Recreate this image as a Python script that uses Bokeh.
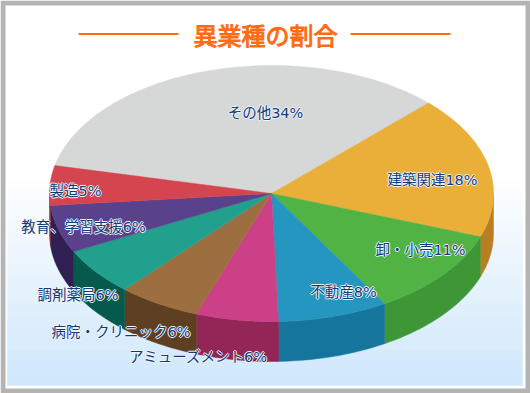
import numpy as np
from bokeh.plotting import figure
from bokeh.models import Range1d
from bokeh.core.properties import value
from bokeh.embed import file_html
from bokeh.resources import INLINE

# ---- chart data ----
title = "異業種の割合"
categories = ["その他", "建築関連", "卸・小売", "不動産", "アミューズメント",
              "病院・クリニック", "調剤薬局", "教育、学習支援", "製造"]
shares = [34, 18, 11, 8, 6, 6, 6, 6, 5]
top_colors = ["#d6d8d7", "#e9af38", "#52b345", "#2496c0", "#cc4088",
              "#9c6e40", "#22a08e", "#5a418c", "#d5454f"]
side_colors = ["#9a9c9b", "#b87f22", "#3e9637", "#16759c", "#932557",
               "#5f3f22", "#055a4c", "#2f1f52", "#8a2a35"]
label_x = [265, 432, 420, 343, 198, 120.5, 77.5, 83, 75]
label_y = [112, 179, 249, 291, 356, 331, 294, 226, 190]

# ---- layout ----
W, H = 530, 393
CX, CY, RX, RY, DEPTH = 271, 193, 222, 128, 40
START_DEG = 45 + 122.4  # start of the first slice, going clockwise

p = figure(width=W, height=H, x_range=Range1d(0, W), y_range=Range1d(H, 0),
           output_backend="svg", toolbar_location=None, min_border=0,
           outline_line_color=None, background_fill_color="#ffffff",
           border_fill_color="#ffffff")
p.axis.visible = False
p.grid.visible = False
p.styles = {"position": "absolute", "left": "0", "top": "0"}

# frame
p.quad(left=[0], right=[W], top=[0], bottom=[H], fill_color="#b4b4b4", line_color=None)
p.quad(left=[5], right=[525], top=[5], bottom=[388], fill_color="#ffffff", line_color=None)

# background gradient
ys = np.arange(7, 385)
t = np.clip((ys - 175) / (385 - 175), 0, 1)
c0, c1 = np.array([255, 255, 255]), np.array([200, 228, 251])
grad = ["#%02x%02x%02x" % tuple(int(round(v)) for v in c0 + (c1 - c0) * k) for k in t]
p.quad(left=7, right=522, top=ys, bottom=ys + 1, fill_color=grad, line_color=grad, line_width=0.3)


def arc(a0, a1, dy=0.0):
    n = max(2, int(abs(a1 - a0)) + 2)
    a = np.radians(np.linspace(a0, a1, n))
    return CX + RX * np.cos(a), CY - RY * np.sin(a) + dy


# slices
spans = []
a = START_DEG
for s in shares:
    b = a - s * 3.6
    spans.append((a, b))
    a = b

# side walls (visible only for angles between 180 and 360 going around)
for (a0, a1), col in zip(spans, side_colors):
    for shift in (0, 360):
        ll, hh = max(a1 + shift, 180), min(a0 + shift, 360)
        if hh > ll:
            x1, y1 = arc(ll, hh)
            x2, y2 = arc(hh, ll, DEPTH)
            p.patch(np.r_[x1, x2], np.r_[y1, y2], fill_color=col, line_color=col, line_width=0.5)

# top faces
for (a0, a1), col in zip(spans, top_colors):
    x, y = arc(a0, a1)
    p.patch(np.r_[CX, x], np.r_[CY, y], fill_color=col, line_color=col, line_width=0.5)

# title with rules
p.segment(x0=[78, 350], x1=[178, 450], y0=[33.5, 33.5], y1=[33.5, 33.5], line_color="#ff6b14", line_width=2)
p.text(x=[265], y=[33.5], text=[title], text_font=value("Noto Sans CJK JP"),
       text_font_size="24px", text_color="#ff6b14", outline_color="#ff6b14",
       text_align="center", text_baseline="middle")

# labels with a pale halo
labels = [f"{c}{v}%" for c, v in zip(categories, shares)]
FONT = value("DejaVu Sans, Noto Sans CJK JP")
common = dict(text_font=FONT, text_font_size="14.5px", text_align="center", text_baseline="middle")
for dx, dy in [(-1, 0), (1, 0), (0, -1), (0, 1)]:
    p.text(x=label_x, y=label_y, text=labels, x_offset=dx, y_offset=dy, text_color="#f2f6fc", **common)
p.text(x=label_x, y=label_y, text=labels, text_color="#123a78", **common)

open("out.html", "w").write(file_html(p, INLINE))
